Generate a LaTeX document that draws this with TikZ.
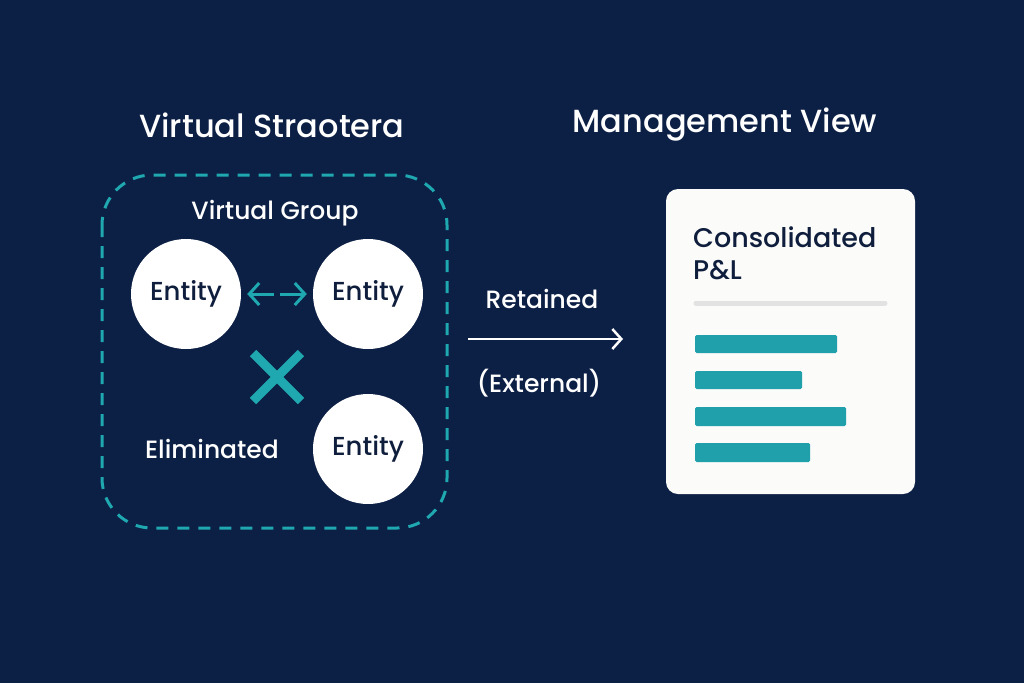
\documentclass[tikz,border=0pt]{standalone}
\usepackage{fontspec}
\setmainfont{Poppins}[UprightFont=* Medium]
\usetikzlibrary{arrows.meta,positioning,calc}

\definecolor{navy}{HTML}{0C1F45}
\definecolor{ink}{HTML}{0F1E3C}
\definecolor{teal}{HTML}{1FA8B0}
\definecolor{barteal}{HTML}{1FA0AA}
\definecolor{rule}{HTML}{E2E2E2}
\definecolor{paper}{HTML}{FBFBFA}

\tikzset{
  entity/.style={circle, fill=white, minimum size=110pt, inner sep=0pt, text=ink, font=\fontsize{26}{30}\selectfont},
  heading/.style={text=white, font=\fontsize{32}{38}\selectfont},
  lbl/.style={text=white, font=\fontsize{25}{30}\selectfont},
  bar/.style={fill=barteal, rounded corners=1.5pt},
  barb/.style={-{Straight Barb[length=10pt,width=22pt]}},
}

\begin{document}
\begin{tikzpicture}[x=1pt,y=-1pt]

\fill[navy] (0,0) rectangle (1024,683);
\useasboundingbox (0,0) rectangle (1024,683);

% titles
\node[heading] (left title) at (272,125) {Virtual Straotera};
\node[heading] (right title) at (725,125) {Management View};

% virtual group box
\draw[teal, line width=3pt, dash pattern=on 12pt off 9pt, rounded corners=50pt] (102,175) rectangle (447,528);
\node[lbl] (group) at (275,213) {Virtual Group};

\node[entity] (e1) at (186,294) {Entity};
\node[entity] (e2) at (368,294) {Entity};
\node[entity] (e3) at (368,449) {Entity};

% two way link, split in the middle
\coordinate (link) at ($(e1)!0.5!(e2)$);
\draw[teal, line width=3pt, barb, shorten >=6pt] ([xshift=-3pt]link) -- (e1);
\draw[teal, line width=3pt, barb, shorten >=6pt] ([xshift=3pt]link) -- (e2);

% eliminated cross
\coordinate (cross) at (277,377);
\draw[teal, line width=9pt] ([shift={(-24,-24)}]cross) -- ([shift={(24,24)}]cross)
                            ([shift={(-24,24)}]cross) -- ([shift={(24,-24)}]cross);
\node[lbl] (elim) at (212,449) {Eliminated};

% retained flow
\coordinate (flow start) at (468,339);
\coordinate (flow end) at (623,339);
\draw[white, line width=2.5pt, -{Straight Barb[length=9pt,width=20pt]}] (flow start) -- (flow end);
\node[lbl] (retained) at (542,299) {Retained};
\node[lbl] (external) at (539,383) {(External)};

% consolidated p&l card
\fill[paper, rounded corners=12pt] (666,189) rectangle (915,494);
\node[text=ink, font=\fontsize{27}{32}\selectfont, align=left, anchor=north west, inner sep=0pt] (card title) at (693,227) {Consolidated\\P\&L};
\draw[rule, line width=5pt, line cap=round] (696,303) -- (885,303);
\fill[bar] (695,335) rectangle (837,353);
\fill[bar] (695,371) rectangle (802,389);
\fill[bar] (695,407) rectangle (846,426);
\fill[bar] (695,443) rectangle (810,462);

\end{tikzpicture}
\end{document}
